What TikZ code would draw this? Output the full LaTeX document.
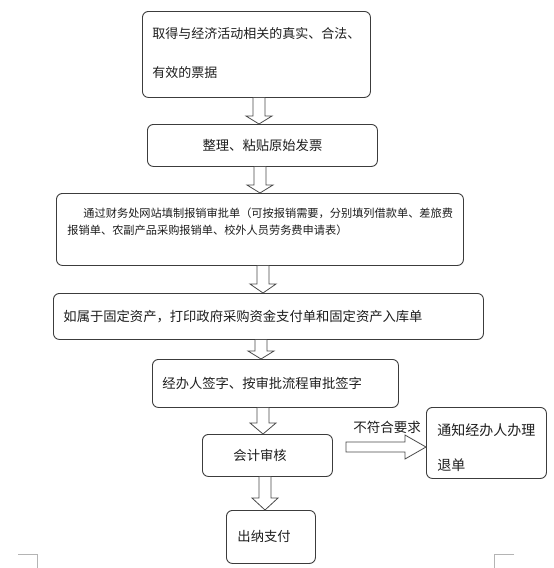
\documentclass[tikz,border=0pt]{standalone}
\usepackage{fontspec}
\newfontfamily\cjkfont{Noto Sans CJK SC}
\usetikzlibrary{calc,positioning}
\definecolor{pagebg}{HTML}{FFFFFF}
\definecolor{boxline}{HTML}{3C3C3C}
\definecolor{arrline}{HTML}{4A4A4A}
\definecolor{inkgray}{HTML}{1E1E1E}
\definecolor{markgray}{HTML}{B4B4B4}
\tikzset{
  flowbox/.style={draw=boxline, line width=0.9pt, fill=pagebg, rounded corners=6pt,
                  anchor=north west, inner xsep=10pt, align=left, text=inkgray,
                  font={\cjkfont\fontsize{13.3}{16}\selectfont}},
  flowarr/.style={draw=arrline, line width=0.8pt, line join=miter, fill=pagebg},
  cropmark/.style={draw=markgray, line width=0.8pt}}
% down block arrow: [head length]{from}{to}{x}
\newcommand{\vflow}[4][9]{%
  \draw[flowarr] let \p1=(#2.south), \p2=(#3.north) in
    (#4pt-6pt,\y1) -- (#4pt-6pt,\y2+#1pt) -- (#4pt-13pt,\y2+#1pt) -- (#4pt,\y2)
    -- (#4pt+13pt,\y2+#1pt) -- (#4pt+6pt,\y2+#1pt) -- (#4pt+6pt,\y1);}

\begin{document}
\begin{tikzpicture}[x=1pt, y=-1pt]
  \useasboundingbox[fill=pagebg] (0,0) rectangle (554,568);

  \node[flowbox, text width=208, inner ysep=0pt, text height=26.9pt, text depth=59.1pt,
        font={\cjkfont\fontsize{13}{39}\selectfont}] (receipt) at (142,11)
    {取得与经济活动相关的真实、合法、\\有效的票据};
  \node[flowbox, minimum width=230, minimum height=42, align=center] (paste) at (147,124)
    {整理、粘贴原始发票};
  \node[flowbox, text width=385, inner xsep=11pt, inner ysep=0pt, text height=24.3pt,
        text depth=47.7pt, font={\cjkfont\fontsize{11.2}{17}\selectfont}] (form) at (56,193)
    {\hspace*{16pt}通过财务处网站填制报销审批单（可按报销需要，分别填列借款单、差旅费\\报销单、农副产品采购报销单、校外人员劳务费申请表）};
  \node[flowbox, text width=410, minimum height=46] (asset) at (53,293)
    {如属于固定资产，打印政府采购资金支付单和固定资产入库单};
  \node[flowbox, text width=226, minimum height=48] (sign) at (152,359)
    {经办人签字、按审批流程审批签字};
  \node[flowbox, text width=68, inner xsep=31pt, minimum height=42] (audit) at (202,434)
    {会计审核};
  \node[flowbox, text width=67, inner xsep=11pt, minimum height=53] (pay) at (226,510)
    {出纳支付};
  \node[flowbox, text width=98, inner xsep=11pt, inner ysep=0pt, text height=28.3pt,
        text depth=42.7pt, font={\cjkfont\fontsize{14}{35}\selectfont}] (notice) at (426,407)
    {通知经办人办理\\退单};

  \vflow[8]{receipt}{paste}{259}
  \vflow[8]{paste}{form}{260}
  \vflow[9]{form}{asset}{263}
  \vflow[8]{asset}{sign}{261}
  \vflow[11]{sign}{audit}{263}
  \vflow[12]{audit}{pay}{265}

  % rejected branch
  \coordinate (rejstart) at (346,447);
  \draw[flowarr] let \p1=(rejstart), \p2=(notice.west |- rejstart) in
    (\x1,\y1+5pt) -- (\x2-21pt,\y1+5pt) -- (\x2-21pt,\y1+12pt) -- (\x2,\y1)
    -- (\x2-21pt,\y1-12pt) -- (\x2-21pt,\y1-5pt) -- (\x1,\y1-5pt) -- cycle;
  \node[text=inkgray, font={\cjkfont\fontsize{13.5}{16}\selectfont}] (rejlbl) at (387,427)
    {不符合要求};

  \draw[cropmark] (18,554) -- (37,554) -- (37,568);
  \draw[cropmark] (514,554) -- (494,554) -- (494,568);
\end{tikzpicture}
\end{document}
